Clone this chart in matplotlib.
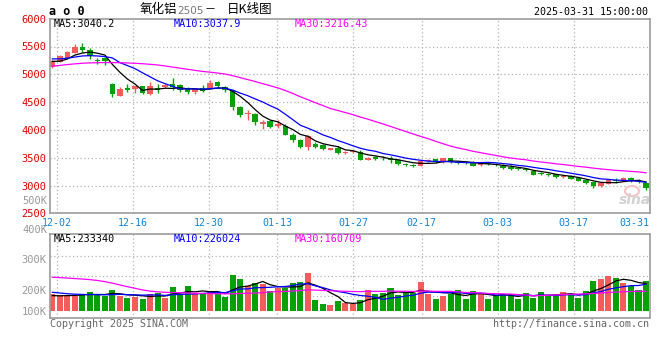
import numpy as np
import pandas as pd
import matplotlib
matplotlib.use('Agg')
import matplotlib.pyplot as plt
from matplotlib.patches import Ellipse

# AO2505 daily bars, 2024-11-29 .. 2025-03-31 (80 sessions)
opens = [5131, 5229, 5294, 5388, 5500, 5441, 5262, 5294, 4830, 4615,
         4752, 4740, 4785, 4640, 4762, 4775, 4826, 4803, 4732, 4676,
         4745, 4745, 4862, 4768, 4714, 4413, 4280, 4284, 4115, 4153,
         4071, 4076, 3917, 3810, 3700, 3752, 3722, 3640, 3681, 3586,
         3598, 3603, 3456, 3521, 3503, 3491, 3456, 3385, 3373, 3355,
         3438, 3473, 3415, 3491, 3426, 3424, 3415, 3375, 3397, 3385,
         3355, 3340, 3314, 3296, 3267, 3219, 3207, 3207, 3150, 3172,
         3136, 3101, 3060, 2989, 3030, 3101, 3089, 3136, 3089, 3042]
highs = [5250, 5350, 5420, 5545, 5555, 5480, 5295, 5318, 4835, 4775,
         4833, 4790, 4798, 4862, 4820, 4830, 4940, 4820, 4773, 4740,
         4810, 4892, 4880, 4785, 4720, 4430, 4360, 4306, 4170, 4175,
         4170, 4110, 3947, 3830, 3904, 3775, 3745, 3680, 3705, 3620,
         3640, 3640, 3510, 3530, 3525, 3530, 3470, 3400, 3390, 3440,
         3475, 3480, 3495, 3500, 3435, 3440, 3440, 3410, 3410, 3400,
         3380, 3360, 3330, 3310, 3280, 3235, 3220, 3215, 3190, 3185,
         3150, 3110, 3070, 3050, 3110, 3130, 3145, 3145, 3115, 3050]
lows = [5120, 5220, 5290, 5380, 5395, 5277, 5190, 5160, 4595, 4610,
        4685, 4667, 4640, 4635, 4668, 4745, 4714, 4680, 4640, 4650,
        4690, 4740, 4755, 4684, 4360, 4230, 4183, 4094, 4023, 4030,
        4035, 3910, 3787, 3675, 3633, 3675, 3640, 3630, 3570, 3560,
        3585, 3450, 3450, 3465, 3460, 3403, 3375, 3350, 3330, 3350,
        3420, 3410, 3410, 3410, 3385, 3390, 3350, 3350, 3360, 3350,
        3300, 3280, 3270, 3260, 3190, 3180, 3175, 3140, 3140, 3110,
        3080, 3035, 2959, 2980, 3020, 3040, 3080, 3070, 3040, 2924]
closes = [5238, 5335, 5406, 5500, 5436, 5323, 5232, 5238, 4650, 4732,
          4717, 4785, 4658, 4785, 4716, 4803, 4770, 4716, 4686, 4727,
          4705, 4851, 4787, 4710, 4410, 4260, 4300, 4135, 4135, 4055,
          4106, 3917, 3818, 3700, 3887, 3693, 3665, 3669, 3577, 3600,
          3620, 3462, 3503, 3475, 3487, 3462, 3387, 3368, 3345, 3432,
          3456, 3416, 3491, 3416, 3405, 3405, 3357, 3397, 3380, 3360,
          3310, 3290, 3296, 3278, 3196, 3200, 3190, 3148, 3178, 3119,
          3089, 3042, 2989, 3042, 3101, 3077, 3136, 3077, 3071, 2953]
volumes_k = [141, 135, 129, 129, 144, 161, 135, 127, 177, 129,
             113, 121, 104, 144, 152, 113, 203, 141, 211, 141,
             152, 169, 149, 121, 304, 270, 209, 237, 225, 169,
             192, 192, 237, 245, 324, 93, 59, 51, 85, 68,
             56, 93, 177, 144, 155, 194, 135, 152, 152, 245,
             144, 104, 129, 141, 177, 104, 169, 144, 104, 129,
             147, 132, 104, 152, 113, 161, 135, 129, 163, 144,
             113, 169, 254, 270, 296, 282, 237, 211, 177, 254]

# averages at the start of the window lean on earlier sessions
ma5_head = [5232, 5236, 5275, 5345]
ma10_head = [5276, 5278, 5290, 5310, 5330, 5335, 5330, 5318, 5294]
ma30_head = [5145, 5160, 5175, 5188, 5199, 5205, 5209, 5211, 5211, 5208,
             5204, 5198, 5190, 5180, 5168, 5150, 5130, 5110, 5090, 5070,
             5052, 5038, 5022, 5005, 4975, 4940, 4905, 4870, 4832]
vma5_head_k = [130, 128, 130, 132]
vma10_head_k = [158, 152, 146, 142, 140, 139, 138, 137, 138]
vma30_head_k = [285, 282, 278, 274, 270, 265, 258, 248, 235, 220,
                205, 192, 178, 168, 162, 158, 156, 154, 152, 150,
                148, 147, 146, 145, 146, 148, 150, 152, 155]

tick_labels = ['12-02', '12-16', '12-30', '01-13', '01-27', '02-17', '03-03', '03-17']
tick_idx = np.array([1, 11, 21, 30, 40, 49, 59, 69])
last_label = '03-31'

RED = '#f45b5b'
GREEN = '#07a007'
MONO = 'DejaVu Sans Mono'
W, H = 660, 360


def moving(vals, n, head):
    s = pd.Series(vals, dtype=float).rolling(n).mean().values
    s[:len(head)] = head
    return s


def fx(px):
    return px / W


def fy(py):
    return 1 - py / H


o = np.array(opens, float)
c = np.array(closes, float)
hi = np.array(highs, float)
lo = np.array(lows, float)
vol = np.array(volumes_k, float) * 1000
x = np.arange(len(c))
col = np.where(c >= o, RED, GREEN)

fig = plt.figure(figsize=(6.6, 3.6), dpi=100)
ax1 = fig.add_axes([fx(50), fy(213.3), fx(600), 194.6 / H])
ax2 = fig.add_axes([fx(50), fy(318.3), fx(600), 84 / H])

# gridlines sit on a slightly wider day step than the candles
grid_pos = 0.63 + (tick_idx - 1) * 1.011
for ax in (ax1, ax2):
    for g in grid_pos:
        ax.axvline(g, color='#b4b4b4', ls=(0, (1, 2)), lw=0.9, zorder=0)
    for s in ax.spines.values():
        s.set_color('#9c9c9c')
        s.set_linewidth(1.2)
    ax.set_xlim(-0.31, 79.53)

for lv in range(3000, 6000, 500):
    ax1.axhline(lv, color='#b4b4b4', ls=(0, (1, 2)), lw=0.9, zorder=0)

# candles
ax1.vlines(x, lo, hi, colors=col, lw=1.0, zorder=2)
ax1.bar(x, np.maximum(np.abs(c - o), 16), bottom=np.minimum(o, c), width=0.74,
        color=col, linewidth=0, zorder=2)
ax1.plot(x, moving(c, 5, ma5_head), color='black', lw=0.9, zorder=3)
ax1.plot(x, moving(c, 10, ma10_head), color='#0000ff', lw=0.9, zorder=3)
ax1.plot(x, moving(c, 30, ma30_head), color='#ff00ff', lw=0.9, zorder=3)
ax1.set_ylim(2500, 6000)
ax1.set_yticks(range(2500, 6001, 500))
# last date label is pulled in from the right edge
ax1.set_xticks(list(grid_pos) + [77.45])
ax1.set_xticklabels(tick_labels + [last_label])
ax1.tick_params(axis='x', length=0, pad=3.2, labelsize=7.2, labelcolor='#1184d6')
ax1.tick_params(axis='y', length=0, pad=2.5, labelsize=7.5, labelcolor='#e00000')
for t in ax1.get_xticklabels() + ax1.get_yticklabels():
    t.set_family(MONO)

# volume
vol_grid = [129e3, 298e3, 467e3]
for lv in vol_grid:
    ax2.axhline(lv, color='#b4b4b4', ls=(0, (1, 2)), lw=0.9, zorder=0)
ax2.bar(x, vol, width=0.8, color=col, linewidth=0, zorder=2)
ax2.plot(x, moving(vol, 5, np.array(vma5_head_k) * 1000), color='black', lw=0.9, zorder=3)
ax2.plot(x, moving(vol, 10, np.array(vma10_head_k) * 1000), color='#0000ff', lw=0.9, zorder=3)
ax2.plot(x, moving(vol, 30, np.array(vma30_head_k) * 1000), color='#ff00ff', lw=0.9, zorder=3)
ax2.set_ylim(-61.7e3, 648e3)
ax2.set_yticks([0, 177e3, 439e3])
ax2.set_yticklabels(['100K', '200K', '300K'])
ax2.set_xticks([])
ax2.tick_params(axis='y', length=0, pad=2.5, labelsize=7.5, labelcolor='#999999')
for t in ax2.get_yticklabels():
    t.set_family(MONO)
fig.text(fx(47), fy(230), '400K', ha='right', va='center', fontsize=7.5,
         color='#999999', family=MONO)
fig.text(fx(47), fy(201), '500K', ha='right', va='center', fontsize=7.5,
         color='#999999', family=MONO)

# header
fig.text(fx(49), fy(11.5), 'a o 0', ha='left', va='center', fontsize=8.5,
         fontweight='bold', family=MONO)
fig.text(fx(140), fy(10), '氧化铝', ha='left', va='center', fontsize=9,
         family=['Noto Sans CJK SC', 'DejaVu Sans'])
fig.text(fx(177), fy(11), '2505', ha='left', va='center', fontsize=7.5,
         color='#777777', family='DejaVu Sans')
fig.text(fx(204), fy(10), '－', ha='left', va='center', fontsize=8,
         family=['Noto Sans CJK SC', 'DejaVu Sans'])
fig.text(fx(227), fy(10), '日K线图', ha='left', va='center', fontsize=9,
         family=['Noto Sans CJK SC', 'DejaVu Sans'])
fig.text(fx(648), fy(12), '2025-03-31 15:00:00', ha='right', va='center',
         fontsize=7.2, family=MONO)

# moving average readouts
fig.text(fx(54), fy(24), 'MA5:3040.2', ha='left', va='center', fontsize=7.3, family=MONO)
fig.text(fx(174), fy(24), 'MA10:3037.9', ha='left', va='center', fontsize=7.3,
         color='#0000ff', family=MONO)
fig.text(fx(295), fy(24), 'MA30:3216.43', ha='left', va='center', fontsize=7.3,
         color='#ff00ff', family=MONO)
fig.text(fx(54), fy(239), 'MA5:233340', ha='left', va='center', fontsize=7.3, family=MONO)
fig.text(fx(174), fy(239), 'MA10:226024', ha='left', va='center', fontsize=7.3,
         color='#0000ff', family=MONO)
fig.text(fx(295), fy(239), 'MA30:160709', ha='left', va='center', fontsize=7.3,
         color='#ff00ff', family=MONO)

# footer
fig.text(fx(50), fy(324), 'Copyright 2025 SINA.COM', ha='left', va='center',
         fontsize=7.2, color='#666666', family=MONO)
fig.text(fx(649), fy(324), 'http://finance.sina.com.cn', ha='right', va='center',
         fontsize=7.2, color='#666666', family=MONO)

# watermark
fig.patches.append(Ellipse((fx(632), fy(191)), fx(14), 10 / H, fill=False,
                           edgecolor='#f3c2c2', lw=1.5, transform=fig.transFigure))
fig.text(fx(635), fy(200), 'sina', ha='center', va='center', fontsize=10,
         style='italic', fontweight='bold', color='#d2d2d2')

fig.savefig('out.png', dpi=100)
